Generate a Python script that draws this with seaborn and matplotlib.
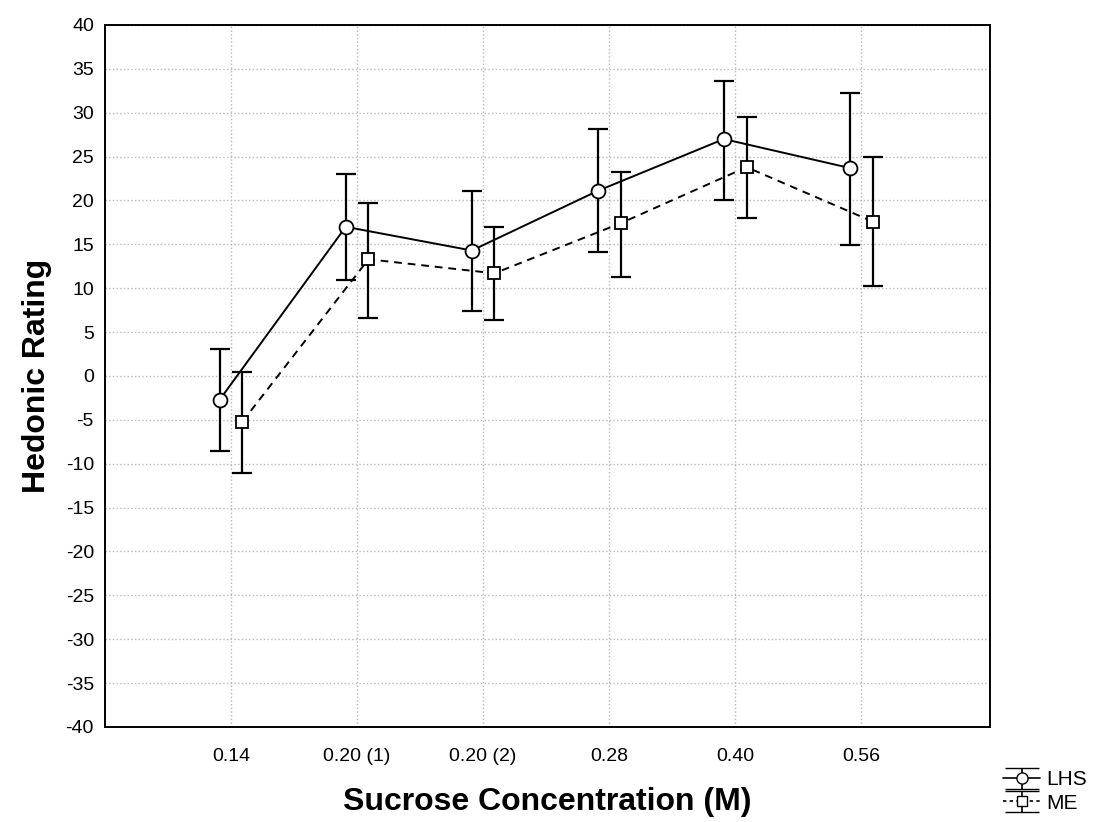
import numpy as np
import pandas as pd
import matplotlib.pyplot as plt
import seaborn as sns

categories = ['0.14', '0.20 (1)', '0.20 (2)', '0.28', '0.40', '0.56']
lhs_mean = [-2.7, 17.0, 14.3, 21.1, 27.0, 23.7]
lhs_low = [-8.6, 10.9, 7.4, 14.1, 20.1, 14.9]
lhs_high = [3.1, 23.0, 21.1, 28.1, 33.6, 32.2]
me_mean = [-5.2, 13.3, 11.7, 17.4, 23.8, 17.6]
me_low = [-11.1, 6.6, 6.4, 11.3, 18.0, 10.3]
me_high = [0.5, 19.7, 17.0, 23.2, 29.5, 25.0]

sns.set_style("white")
plt.rcParams['font.family'] = ['Liberation Sans', 'DejaVu Sans']
plt.rcParams['axes.unicode_minus'] = False
plt.rcParams['text.color'] = 'black'
plt.rcParams['axes.labelcolor'] = 'black'
plt.rcParams['xtick.color'] = 'black'
plt.rcParams['ytick.color'] = 'black'

pos = np.arange(len(categories))
df = pd.DataFrame({
    'x': np.concatenate([pos - 0.09, pos + 0.09]),
    'y': lhs_mean + me_mean,
    'lo': lhs_low + me_low,
    'hi': lhs_high + me_high,
    'grp': ['LHS'] * len(pos) + ['ME'] * len(pos),
})

fig = plt.figure(figsize=(11.01, 8.22), dpi=100)
ax = fig.add_axes([0.0954, 0.1156, 0.8036, 0.854])

styles = {'LHS': ('o', '-'), 'ME': ('s', (0, (4, 3)))}
for g, (mk, ls) in styles.items():
    d = df[df.grp == g]
    ax.errorbar(d.x, d.y, yerr=[d.y - d.lo, d.hi - d.y], fmt='none',
                ecolor='black', elinewidth=1.6, capsize=7, capthick=1.6, zorder=2)
    sns.lineplot(data=d, x='x', y='y', ax=ax, color='black', linewidth=1.4,
                 linestyle=ls, marker=mk, markersize=10 if mk == 'o' else 9,
                 markerfacecolor='white', markeredgecolor='black',
                 markeredgewidth=1.3, zorder=3, legend=False)

ax.set_xlim(-1.0, 6.02)
ax.set_ylim(-40, 40)
ax.set_xticks(pos)
ax.set_xticklabels(categories)
ax.set_yticks(np.arange(-40, 41, 5))
ax.tick_params(direction='in', length=6, width=1.2, labelsize=14)
ax.tick_params(axis='x', pad=15)
ax.tick_params(axis='y', pad=8)
ax.grid(True, color='#b8b8b8', linestyle=':', linewidth=1.0)
for s in ax.spines.values():
    s.set_color('black')
    s.set_linewidth(1.4)

ax.set_xlabel('Sucrose Concentration (M)', fontsize=23, fontweight='bold', labelpad=16)
ax.set_ylabel('Hedonic Rating', fontsize=23, fontweight='bold', labelpad=10)

# legend handles (drawn off-screen)
h1 = ax.errorbar([np.nan], [np.nan], yerr=[1], fmt='-o', color='black', mfc='white',
                 ms=8, capsize=12, lw=1.2)
h2 = ax.errorbar([np.nan], [np.nan], yerr=[1], fmt='s', ls=(0, (2, 2)), color='black',
                 mfc='white', ms=7, capsize=12, lw=1.2)
fig.legend([h1, h2], ['LHS', 'ME'], loc='lower right', bbox_to_anchor=(1.0, -0.005),
           frameon=False, fontsize=15, handlelength=1.8, handletextpad=0.3,
           labelspacing=0.2, borderpad=0.15)

fig.savefig('out.png', dpi=100)
